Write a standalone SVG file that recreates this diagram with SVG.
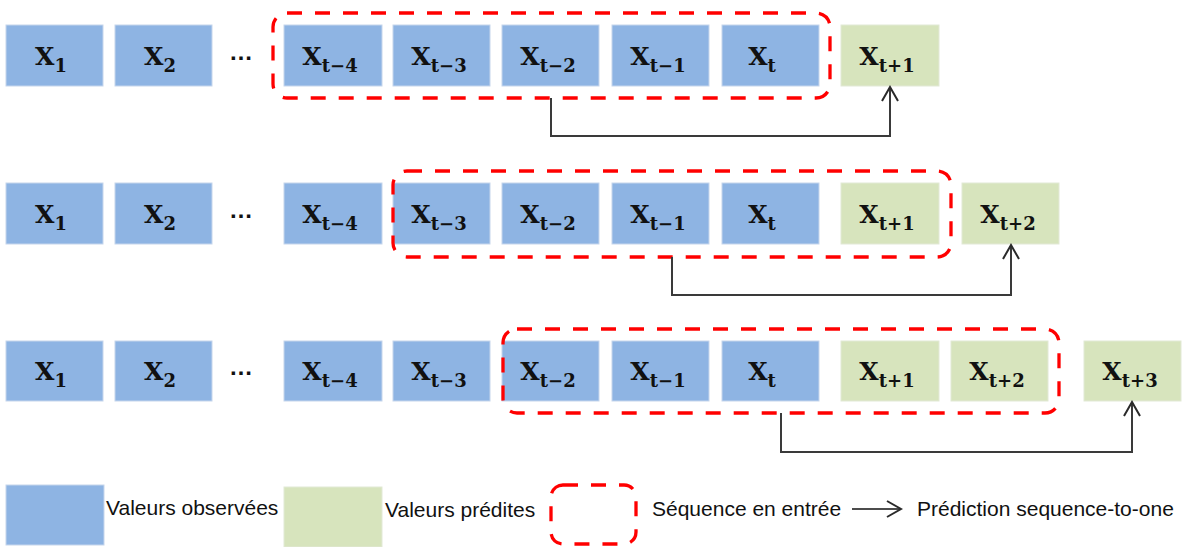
<svg xmlns="http://www.w3.org/2000/svg" width="1184" height="547" viewBox="0 0 1184 547">
<style>
.obs{fill:#8EB4E3;stroke:#C6D6EC;stroke-width:1}
.pred{fill:#D7E4BD;stroke:#E2E9D6;stroke-width:1}
.lbl{font-family:"DejaVu Serif","Liberation Serif",serif;font-weight:bold;font-size:25px;fill:#111;text-anchor:middle}
.sub{font-size:18px}
.dots{font-family:"Liberation Sans",sans-serif;font-size:24px;font-weight:bold;fill:#111;text-anchor:middle}
.win{fill:none;stroke:#FF0000;stroke-width:3.3;stroke-dasharray:15 13}
.conn{fill:none;stroke:#3A3A3A;stroke-width:2;marker-end:url(#arr)}
.leg{font-family:"Liberation Sans",sans-serif;font-size:21px;fill:#111}
</style>
<defs>
<marker id="arr" markerUnits="userSpaceOnUse" viewBox="-16 -10 18 20" refX="0" refY="0" markerWidth="18" markerHeight="20" orient="auto">
<path d="M-14,-8 L0,0 L-14,8" fill="none" stroke="#2A2A2A" stroke-width="2"/>
</marker>
</defs>

<!-- Row 1 -->
<g id="r1">
<g id="r1-x1"><rect class="obs" x="6" y="25" width="97" height="61"/><text class="lbl" x="51" y="65">X<tspan class="sub" dy="7">1</tspan></text></g>
<g id="r1-x2"><rect class="obs" x="115" y="25" width="97" height="61"/><text class="lbl" x="160" y="65">X<tspan class="sub" dy="7">2</tspan></text></g>
<g id="r1-dots"><text class="dots" x="241" y="60">…</text></g>
<g id="r1-xt-4"><rect class="obs" x="284" y="25" width="98" height="61"/><text class="lbl" x="330" y="65">X<tspan class="sub" dy="7">t−4</tspan></text></g>
<g id="r1-xt-3"><rect class="obs" x="393" y="25" width="97" height="61"/><text class="lbl" x="439" y="65">X<tspan class="sub" dy="7">t−3</tspan></text></g>
<g id="r1-xt-2"><rect class="obs" x="502" y="25" width="97" height="61"/><text class="lbl" x="548" y="65">X<tspan class="sub" dy="7">t−2</tspan></text></g>
<g id="r1-xt-1"><rect class="obs" x="612" y="25" width="97" height="61"/><text class="lbl" x="658" y="65">X<tspan class="sub" dy="7">t−1</tspan></text></g>
<g id="r1-xt"><rect class="obs" x="722" y="25" width="97" height="61"/><text class="lbl" x="762" y="65">X<tspan class="sub" dy="7">t</tspan></text></g>
<g id="r1-xt+1"><rect class="pred" x="841" y="25" width="98" height="61"/><text class="lbl" x="887" y="65">X<tspan class="sub" dy="7">t+1</tspan></text></g>
<g id="r1-window"><rect class="win" x="273" y="13" width="557" height="85" rx="14"/></g>
</g>

<!-- Row 2 -->
<g id="r2">
<g id="r2-x1"><rect class="obs" x="6" y="183" width="97" height="61"/><text class="lbl" x="51" y="223">X<tspan class="sub" dy="7">1</tspan></text></g>
<g id="r2-x2"><rect class="obs" x="115" y="183" width="97" height="61"/><text class="lbl" x="160" y="223">X<tspan class="sub" dy="7">2</tspan></text></g>
<g id="r2-dots"><text class="dots" x="241" y="218">…</text></g>
<g id="r2-xt-4"><rect class="obs" x="284" y="183" width="98" height="61"/><text class="lbl" x="330" y="223">X<tspan class="sub" dy="7">t−4</tspan></text></g>
<g id="r2-xt-3"><rect class="obs" x="393" y="183" width="97" height="61"/><text class="lbl" x="439" y="223">X<tspan class="sub" dy="7">t−3</tspan></text></g>
<g id="r2-xt-2"><rect class="obs" x="502" y="183" width="97" height="61"/><text class="lbl" x="548" y="223">X<tspan class="sub" dy="7">t−2</tspan></text></g>
<g id="r2-xt-1"><rect class="obs" x="612" y="183" width="97" height="61"/><text class="lbl" x="658" y="223">X<tspan class="sub" dy="7">t−1</tspan></text></g>
<g id="r2-xt"><rect class="obs" x="722" y="183" width="97" height="61"/><text class="lbl" x="762" y="223">X<tspan class="sub" dy="7">t</tspan></text></g>
<g id="r2-xt+1"><rect class="pred" x="841" y="183" width="98" height="61"/><text class="lbl" x="887" y="223">X<tspan class="sub" dy="7">t+1</tspan></text></g>
<g id="r2-xt+2"><rect class="pred" x="962" y="183" width="97" height="61"/><text class="lbl" x="1008" y="223">X<tspan class="sub" dy="7">t+2</tspan></text></g>
<g id="r2-window"><rect class="win" x="393" y="171" width="558" height="86" rx="14"/></g>
</g>

<!-- Row 3 -->
<g id="r3">
<g id="r3-x1"><rect class="obs" x="6" y="341" width="97" height="60"/><text class="lbl" x="51" y="380">X<tspan class="sub" dy="7">1</tspan></text></g>
<g id="r3-x2"><rect class="obs" x="115" y="341" width="97" height="60"/><text class="lbl" x="160" y="380">X<tspan class="sub" dy="7">2</tspan></text></g>
<g id="r3-dots"><text class="dots" x="241" y="375">…</text></g>
<g id="r3-xt-4"><rect class="obs" x="284" y="341" width="98" height="60"/><text class="lbl" x="330" y="380">X<tspan class="sub" dy="7">t−4</tspan></text></g>
<g id="r3-xt-3"><rect class="obs" x="393" y="341" width="97" height="60"/><text class="lbl" x="439" y="380">X<tspan class="sub" dy="7">t−3</tspan></text></g>
<g id="r3-xt-2"><rect class="obs" x="502" y="341" width="97" height="60"/><text class="lbl" x="548" y="380">X<tspan class="sub" dy="7">t−2</tspan></text></g>
<g id="r3-xt-1"><rect class="obs" x="612" y="341" width="97" height="60"/><text class="lbl" x="658" y="380">X<tspan class="sub" dy="7">t−1</tspan></text></g>
<g id="r3-xt"><rect class="obs" x="722" y="341" width="97" height="60"/><text class="lbl" x="762" y="380">X<tspan class="sub" dy="7">t</tspan></text></g>
<g id="r3-xt+1"><rect class="pred" x="841" y="341" width="98" height="60"/><text class="lbl" x="887" y="380">X<tspan class="sub" dy="7">t+1</tspan></text></g>
<g id="r3-xt+2"><rect class="pred" x="951" y="341" width="97" height="60"/><text class="lbl" x="997" y="380">X<tspan class="sub" dy="7">t+2</tspan></text></g>
<g id="r3-xt+3"><rect class="pred" x="1084" y="341" width="97" height="60"/><text class="lbl" x="1130" y="380">X<tspan class="sub" dy="7">t+3</tspan></text></g>
<g id="r3-window"><rect class="win" x="503" y="329" width="556" height="84" rx="14"/></g>
</g>

<!-- Connectors -->
<g id="connectors">
<polyline class="conn" points="551,98 551,136 890,136 890,87"/>
<polyline class="conn" points="672,257 672,295 1011,295 1011,245"/>
<polyline class="conn" points="781,413 781,452 1132,452 1132,402"/>
</g>

<!-- Legend -->
<g id="legend">
<g id="leg-obs"><rect class="obs" x="6" y="485" width="98" height="60"/><text class="leg" x="106" y="515">Valeurs observées</text></g>
<g id="leg-pred"><rect class="pred" x="284" y="487" width="98" height="60"/><text class="leg" x="385" y="517">Valeurs prédites</text></g>
<g id="leg-win"><rect class="win" x="551" y="485" width="85" height="59" rx="12"/><text class="leg" x="652" y="516">Séquence en entrée</text></g>
<g id="leg-arrow"><line x1="852" y1="509" x2="901" y2="509" stroke="#111" stroke-width="1.6" marker-end="url(#arr)"/><text class="leg" x="917" y="516">Prédiction sequence-to-one</text></g>
</g>
</svg>
